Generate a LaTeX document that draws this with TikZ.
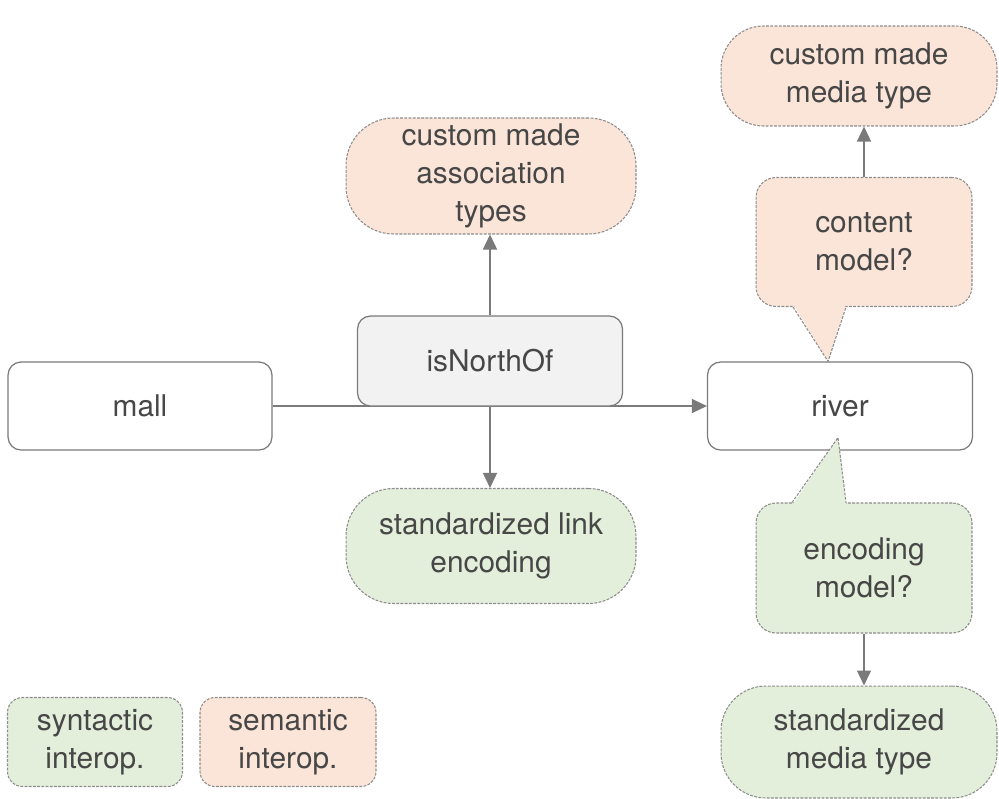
\documentclass[tikz,border=0pt]{standalone}
\usepackage{fontspec}
\setmainfont{TeX Gyre Heros}
\usetikzlibrary{arrows.meta,calc}
\pgfdeclarelayer{bg}
\pgfsetlayers{bg,main}
\definecolor{linegray}{HTML}{7A7A7A}
\definecolor{dashgray}{HTML}{8C8C8C}
\definecolor{textgray}{HTML}{474747}
\definecolor{semfill}{HTML}{FBE5D8}
\definecolor{synfill}{HTML}{E3EFDA}
\definecolor{relfill}{HTML}{F2F2F2}
\tikzset{
    every node/.style={align=center, text=textgray, font=\fontsize{17}{21.6}\selectfont},
    res/.style={rectangle, draw=linegray, line width=0.7pt, fill=white, rounded corners=0.26cm, minimum width=5.28cm, minimum height=1.76cm},
    rel/.style={res, fill=relfill, minimum height=1.8cm},
    interop/.style={rectangle, inner sep=0pt, draw=dashgray, line width=0.6pt, dash pattern=on 1.6pt off 0.8pt},
    semantic/.style={interop, fill=semfill},
    syntactic/.style={interop, fill=synfill},
    link/.style={draw=linegray, line width=0.85pt, -{Triangle[length=0.3cm, width=0.28cm]}},
    pointer/.style={draw=dashgray, line width=0.6pt, dash pattern=on 1.6pt off 0.8pt}
}

\begin{document}
\begin{tikzpicture}[x=0.02cm, y=-0.02cm]
    \useasboundingbox (0, 0) rectangle (999, 798);

    % the link and its two ends
    \node (mall) [res] at (140, 406) {mall};
    \node (north) [rel, minimum width=5.3cm] at (490, 361) {isNorthOf};
    \node (river) [res, minimum width=5.3cm] at (840, 406) {river};

    \node (assoc) [semantic, rounded corners=0.95cm, minimum width=5.8cm, minimum height=2.32cm] at (491, 176) {custom made\\association\\types};
    \node (linkenc) [syntactic, rounded corners=0.95cm, minimum width=5.8cm, minimum height=2.3cm] at (491, 546) {standardized link\\encoding};

    \node (cmtype) [semantic, rounded corners=0.85cm, minimum width=5.52cm, minimum height=2cm] at (859, 76) {custom made\\media type};
    \node (stdtype) [syntactic, rounded corners=0.9cm, minimum width=5.52cm, minimum height=2.24cm] at (859, 742) {standardized\\media type};

    % callouts on the target resource
    \coordinate (ctip) at ($(river.north)+(-12, 0)$);
    \coordinate (etip) at ($(river.south)+(-2, -13)$);

    \node (content) [semantic, rounded corners=0.4cm, minimum width=4.32cm, minimum height=2.58cm] at (864, 242) {content\\model?};
    \fill[semfill] ($(content.south)+(-71, -3)$) -- (ctip) -- ($(content.south)+(-18, -3)$) -- cycle;
    \draw[pointer] ($(content.south)+(-71, 0)$) -- (ctip) -- ($(content.south)+(-18, 0)$);

    \node (encoding) [syntactic, rounded corners=0.4cm, minimum width=4.32cm, minimum height=2.6cm] at (864, 568) {encoding\\model?};
    \fill[synfill] ($(encoding.north)+(-72, 3)$) -- (etip) -- ($(encoding.north)+(-18, 3)$) -- cycle;
    \draw[pointer] ($(encoding.north)+(-72, 0)$) -- (etip) -- ($(encoding.north)+(-18, 0)$);

    % legend
    \node (syn) [syntactic, rounded corners=0.3cm, minimum width=3.5cm, minimum height=1.78cm] at (95, 742) {syntactic\\interop.};
    \node (sem) [semantic, rounded corners=0.3cm, minimum width=3.52cm, minimum height=1.78cm] at (288, 742) {semantic\\interop.};

    \begin{pgfonlayer}{bg}
        \draw[link] (mall) -- (river);
        \draw[link] (north.north) -- (north.north |- assoc.south);
        \draw[link] (north.south) -- (north.south |- linkenc.north);
        \draw[link] (content.north) -- (content.north |- cmtype.south);
        \draw[link] (encoding.south) -- (encoding.south |- stdtype.north);
    \end{pgfonlayer}
\end{tikzpicture}
\end{document}
